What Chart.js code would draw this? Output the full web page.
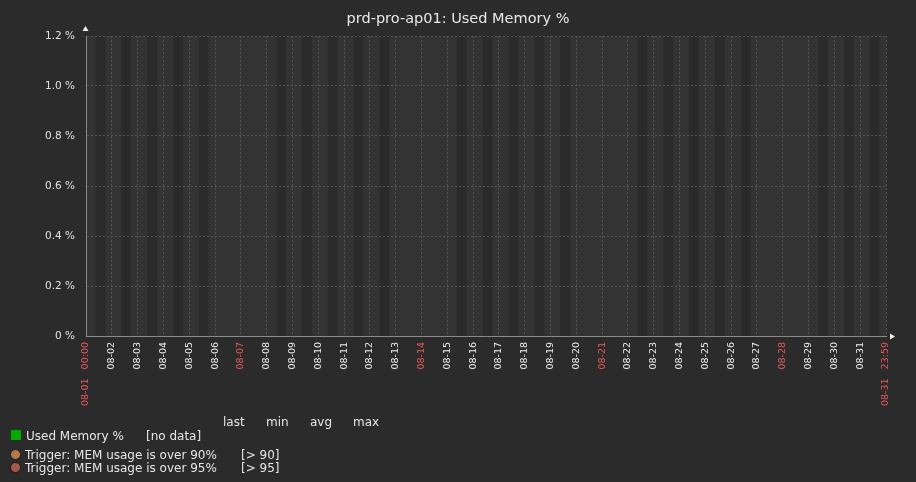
<!DOCTYPE html>
<html>
<head>
<meta charset="utf-8">
<script src="https://cdn.jsdelivr.net/npm/chart.js@4"></script>
<style>
  html, body { margin: 0; padding: 0; background: #2b2b2b; }
  #wrap { position: relative; width: 916px; height: 482px; overflow: hidden; font-family: "DejaVu Sans", sans-serif; }
  canvas { position: absolute; left: 0; top: 0; }
  .lg { position: absolute; font-size: 12px; color: #e6e6e6; white-space: nowrap; line-height: 14px; }
  .sq { position: absolute; width: 10px; height: 10px; background: #00aa00; }
  .dot { position: absolute; width: 11px; height: 11px; border-radius: 50%; box-sizing: border-box; border: 1px solid #1c1c1c; }
</style>
</head>
<body>
<div id="wrap">
  <canvas id="c" width="916" height="482"></canvas>
  <div class="lg" style="left:223px; top:415px;">last</div>
  <div class="lg" style="left:266px; top:415px;">min</div>
  <div class="lg" style="left:310px; top:415px;">avg</div>
  <div class="lg" style="left:353px; top:415px;">max</div>

  <div class="sq" style="left:11px; top:430px;"></div>
  <div class="lg" style="left:26px; top:429px;">Used Memory %</div>
  <div class="lg" style="left:146px; top:429px;">[no data]</div>

  <div class="dot" style="left:10px; top:449px; background:#b5784a;"></div>
  <div class="lg" style="left:25px; top:448px;">Trigger: MEM usage is over 90%</div>
  <div class="lg" style="left:241px; top:448px;">[&gt; 90]</div>

  <div class="dot" style="left:10px; top:462px; background:#a45a48;"></div>
  <div class="lg" style="left:25px; top:461px;">Trigger: MEM usage is over 95%</div>
  <div class="lg" style="left:241px; top:461px;">[&gt; 95]</div>
</div>
<script>
// ---- data ----
const chartTitle = 'prd-pro-ap01: Used Memory %';
const tickValues = [0,1,2,3,4,5,6,7,8,9,10,11,12,13,14,15,16,17,18,19,20,21,22,23,24,25,26,27,28,29,30,31];
const tickLabels = ['08-01   00:00','08-02','08-03','08-04','08-05','08-06','08-07','08-08','08-09','08-10',
  '08-11','08-12','08-13','08-14','08-15','08-16','08-17','08-18','08-19','08-20','08-21','08-22','08-23',
  '08-24','08-25','08-26','08-27','08-28','08-29','08-30','08-31','08-31   23:59'];
const redTickIdx = [0,6,13,20,27,31];
const yTickValues = [0,0.2,0.4,0.6,0.8,1.0,1.2];
const usedMemory = [];            // [no data]
const workDays = [1,2,3,4,5,8,9,10,11,12,15,16,17,18,19,22,23,24,25,26,29,30,31];
const workHours = [9,18];

const bgPlugin = {
  id: 'bg',
  beforeDraw(chart) {
    const {ctx, chartArea: a, scales: {x}} = chart;
    ctx.save();
    ctx.fillStyle = '#333333';
    ctx.fillRect(a.left, a.top, a.right - a.left, a.bottom - a.top);
    ctx.fillStyle = '#2a2a2a';
    workDays.forEach(d => {
      const x1 = x.getPixelForValue(d - 1 + workHours[0] / 24);
      const x2 = x.getPixelForValue(d - 1 + workHours[1] / 24);
      ctx.fillRect(x1, a.top, x2 - x1, a.bottom - a.top);
    });
    ctx.restore();
  },
  afterDraw(chart) {
    const {ctx, chartArea: a} = chart;
    ctx.save();
    ctx.fillStyle = '#f0f0f0';
    const lx = Math.round(a.left) - 0.5;
    ctx.beginPath();
    ctx.moveTo(lx, a.top - 10);
    ctx.lineTo(lx - 3, a.top - 5);
    ctx.lineTo(lx + 3, a.top - 5);
    ctx.closePath();
    ctx.fill();
    const by = Math.round(a.bottom) + 0.5;
    ctx.beginPath();
    ctx.moveTo(a.right + 9, by);
    ctx.lineTo(a.right + 4, by - 3);
    ctx.lineTo(a.right + 4, by + 3);
    ctx.closePath();
    ctx.fill();
    ctx.restore();
  }
};

new Chart(document.getElementById('c'), {
  type: 'line',
  data: {
    datasets: [{
      label: 'Used Memory %',
      data: usedMemory,
      borderColor: '#00aa00',
      backgroundColor: '#00aa00',
      pointRadius: 0
    }]
  },
  options: {
    responsive: false,
    animation: false,
    layout: { padding: 0 },
    plugins: {
      legend: { display: false },
      tooltip: { enabled: false },
      title: {
        display: true,
        text: chartTitle,
        color: '#e8e8e8',
        font: { family: 'DejaVu Sans', size: 14.5, weight: 'normal', lineHeight: '17px' },
        padding: { top: 11, bottom: 8 }
      }
    },
    scales: {
      x: {
        type: 'linear',
        min: 0,
        max: 31,
        afterBuildTicks(scale) { scale.ticks = tickValues.map(v => ({ value: v })); },
        afterFit(scale) { scale.height = 146; },
        ticks: {
          autoSkip: false,
          maxRotation: 90,
          minRotation: 90,
          padding: 6,
          font: { family: 'DejaVu Sans', size: 9.5 },
          color: ctx => redTickIdx.includes(ctx.index) ? '#e85a5a' : '#f0f0f0',
          callback: (v, i) => tickLabels[i]
        },
        grid: { color: '#555555', lineWidth: 1, drawTicks: false },
        border: { color: '#8a8a8a', width: 1, dash: [2, 2] }
      },
      y: {
        min: 0,
        max: 1.2,
        afterBuildTicks(scale) { scale.ticks = yTickValues.map(v => ({ value: v })); },
        afterFit(scale) { scale.width = 86; },
        ticks: {
          padding: 11,
          font: { family: 'DejaVu Sans', size: 10.5 },
          color: '#e0e0e0',
          callback: v => v === 0 ? '0 %' : v.toFixed(1) + ' %'
        },
        grid: { color: '#555555', lineWidth: 1, drawTicks: false },
        border: { color: '#8a8a8a', width: 1, dash: [2, 2] }
      },
      yr: {
        position: 'right',
        display: true,
        ticks: { display: false },
        grid: { display: false, drawTicks: false },
        border: { display: false },
        afterFit(scale) { scale.width = 30; }
      }
    }
  },
  plugins: [bgPlugin]
});
</script>
</body>
</html>
